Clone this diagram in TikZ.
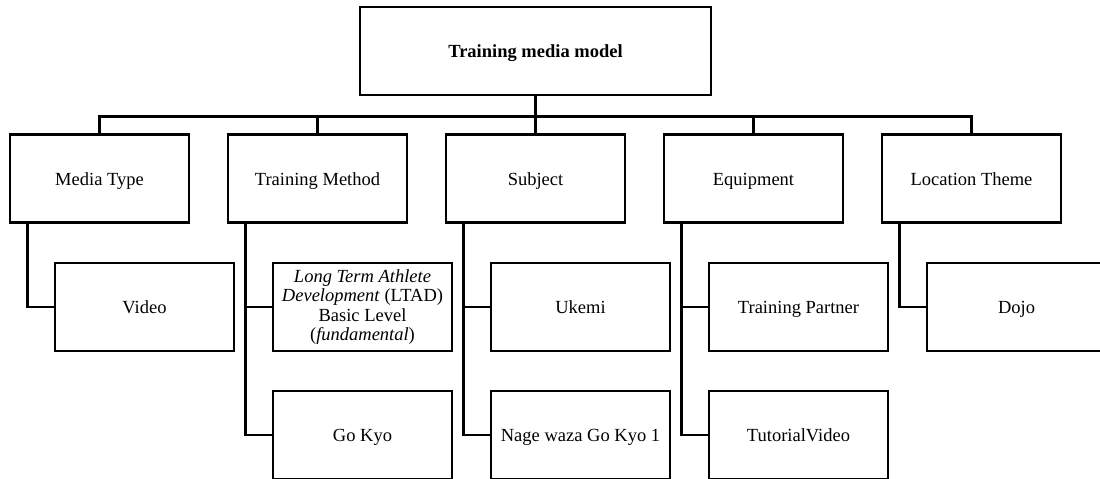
\documentclass[tikz,border=0pt]{standalone}
\usepackage{fontspec}
\setmainfont{Liberation Serif}
\begin{document}
\begin{tikzpicture}[x=1pt,y=-1pt,
  box/.style={draw=black, line width=2.6pt, minimum width=179pt, minimum height=88pt, inner sep=2pt, align=center, font=\fontsize{18.5}{19.5}\selectfont},
  one/.style={text height=15pt, text depth=2pt},
  link/.style={draw=black, line width=2.6pt}]
\useasboundingbox (0,0) rectangle (1100,479);
% top
\node[box, one, minimum width=351pt, font=\fontsize{18.5}{19.5}\selectfont\bfseries] (top) at (535.5,51) {Training media model};
% level 1
\node[box, one] (mt) at (99.5,178.5) {Media Type};
\node[box, one] (tm) at (317.5,178.5) {Training Method};
\node[box, one] (sb) at (535.5,178.5) {Subject};
\node[box, one] (eq) at (753.5,178.5) {Equipment};
\node[box, one] (lt) at (971.5,178.5) {Location Theme};
% level 2
\node[box, one] (video) at (144.5,307) {Video};
\node[box] (ltad) at (362.5,307) {\itshape Long Term Athlete\\ \itshape Development\/ \upshape(LTAD)\\ Basic Level\\ (\textit{fundamental})};
\node[box, one] (gokyo) at (362.5,435) {Go Kyo};
\node[box, one] (ukemi) at (580.5,307) {Ukemi};
\node[box, one] (nage) at (580.5,435) {Nage waza Go Kyo 1};
\node[box, one] (partner) at (798.5,307) {Training Partner};
\node[box, one] (tutorial) at (798.5,435) {TutorialVideo};
\node[box, one] (dojo) at (1016.5,307) {Dojo};
% connectors top
\foreach \n in {mt,tm,sb,eq,lt}{
  \draw[link] (top.south) -- ++(0,20) -| (\n.north);
}
% child connectors
\draw[link] ([xshift=19pt]mt.south west) |- (video.west);
\draw[link] ([xshift=19pt]tm.south west) |- (ltad.west);
\draw[link] ([xshift=19pt]tm.south west) |- (gokyo.west);
\draw[link] ([xshift=19pt]sb.south west) |- (ukemi.west);
\draw[link] ([xshift=19pt]sb.south west) |- (nage.west);
\draw[link] ([xshift=19pt]eq.south west) |- (partner.west);
\draw[link] ([xshift=19pt]eq.south west) |- (tutorial.west);
\draw[link] ([xshift=19pt]lt.south west) |- (dojo.west);
\end{tikzpicture}
\end{document}
